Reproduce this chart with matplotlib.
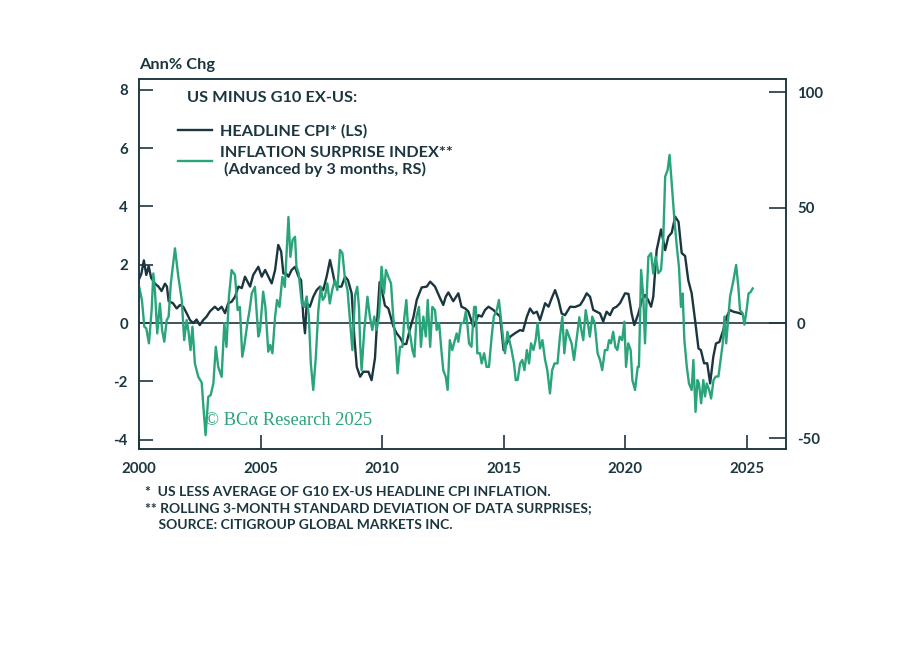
import matplotlib
matplotlib.use("Agg")
import matplotlib.pyplot as plt
from matplotlib.lines import Line2D

plt.rcParams["font.family"] = ["Lato", "DejaVu Sans"]
plt.rcParams["axes.unicode_minus"] = False

DARK = "#1c3640"
GREEN = "#2aa47b"

# US minus G10 ex-US headline CPI (LS), decimal year / % points
cpi_t = [2000.0, 2000.1, 2000.2, 2000.3, 2000.4, 2000.5, 2000.66, 2000.8, 2000.93, 2001.07,
         2001.15, 2001.22, 2001.4, 2001.55, 2001.69, 2001.82, 2001.96, 2002.1, 2002.23, 2002.37,
         2002.5, 2002.64, 2002.78, 2002.92, 2003.12, 2003.26, 2003.4, 2003.54, 2003.67, 2003.81,
         2003.95, 2004.09, 2004.23, 2004.36, 2004.57, 2004.7, 2004.91, 2005.05, 2005.19, 2005.32,
         2005.46, 2005.6, 2005.73, 2005.85, 2005.94, 2006.05, 2006.15, 2006.28, 2006.42, 2006.56,
         2006.67, 2006.76, 2006.83, 2006.9, 2007.03, 2007.17, 2007.31, 2007.45, 2007.58, 2007.72,
         2007.86, 2007.95, 2008.06, 2008.2, 2008.33, 2008.48, 2008.6, 2008.75, 2008.86, 2008.96,
         2009.1, 2009.23, 2009.44, 2009.57, 2009.71, 2009.8, 2009.9, 2010.0, 2010.12, 2010.26,
         2010.46, 2010.6, 2010.74, 2010.88, 2011.0, 2011.15, 2011.29, 2011.43, 2011.63, 2011.84,
         2011.98, 2012.18, 2012.39, 2012.52, 2012.62, 2012.73, 2012.93, 2013.14, 2013.27, 2013.42,
         2013.55, 2013.76, 2013.96, 2014.1, 2014.24, 2014.38, 2014.58, 2014.72, 2014.86, 2015.0,
         2015.13, 2015.27, 2015.47, 2015.68, 2015.8, 2015.96, 2016.09, 2016.23, 2016.37, 2016.5,
         2016.71, 2016.85, 2016.98, 2017.12, 2017.26, 2017.39, 2017.53, 2017.74, 2017.94, 2018.15,
         2018.28, 2018.42, 2018.56, 2018.69, 2018.83, 2018.97, 2019.1, 2019.24, 2019.38, 2019.51,
         2019.65, 2019.79, 2020.0, 2020.14, 2020.27, 2020.38, 2020.55, 2020.69, 2020.82, 2020.95,
         2021.07, 2021.16, 2021.3, 2021.48, 2021.65, 2021.78, 2021.92, 2022.06, 2022.2, 2022.33,
         2022.47, 2022.6, 2022.74, 2022.88, 2023.02, 2023.12, 2023.25, 2023.38, 2023.5, 2023.63,
         2023.74, 2023.88, 2024.04, 2024.18, 2024.32, 2024.45, 2024.66, 2024.8]
cpi_v = [1.5, 1.7, 2.15, 1.65, 1.95, 1.55, 1.35, 1.25, 1.1, 1.35,
         1.25, 0.75, 0.68, 0.5, 0.62, 0.56, 0.34, 0.1, 0.0, 0.12,
         -0.07, 0.1, 0.22, 0.4, 0.56, 0.45, 0.56, 0.34, 0.68, 0.73,
         0.9, 1.25, 1.2, 1.59, 1.25, 1.65, 1.93, 1.59, 1.82, 1.6,
         1.36, 1.82, 2.68, 2.45, 1.7, 1.7, 1.59, 1.82, 1.93, 1.6,
         1.47, 0.22, -0.35, 0.68, 0.56, 0.9, 1.13, 1.25, 1.13, 1.59,
         2.16, 1.82, 1.36, 1.25, 1.25, 1.59, 1.47, 1.02, -0.47, -1.5,
         -1.84, -1.67, -1.67, -1.96, -1.2, 0.1, 1.4, 1.1, 0.6, 0.5,
         -0.1, -0.35, -0.5, -0.72, -0.72, -0.2, 0.2, 0.8, 1.22, 1.25,
         1.42, 1.25, 0.85, 0.62, 0.9, 1.05, 0.75, 1.02, 0.56, 0.5,
         0.4, -0.13, 0.27, 0.22, 0.45, 0.56, 0.45, 0.33, 0.22, -0.93,
         -0.7, -0.47, -0.35, -0.24, -0.27, 0.22, 0.5, 0.33, 0.39, 0.1,
         0.68, 0.56, 0.85, 1.13, 0.79, 0.33, 0.27, 0.56, 0.55, 0.62,
         0.79, 1.02, 0.9, 0.45, 0.39, 0.33, 0.05, 0.39, 0.27, 0.5,
         0.56, 0.68, 1.02, 1.0, 0.33, -0.07, 0.33, 0.79, 0.96, 0.79,
         0.56, 0.9, 2.5, 3.21, 2.5, 2.96, 3.1, 3.65, 3.47, 2.4,
         2.3, 1.47, 1.02, 0.1, -0.87, -0.93, -1.38, -1.38, -2.07, -1.16,
         -0.7, -0.65, -0.24, 0.22, 0.45, 0.39, 0.35, 0.31]

# Inflation surprise index, advanced by 3 months (RS)
srp_t = [2000.0, 2000.12, 2000.22, 2000.3, 2000.41, 2000.52, 2000.59, 2000.66, 2000.75, 2000.86,
         2000.95, 2001.04, 2001.14, 2001.22, 2001.31, 2001.48, 2001.62, 2001.76, 2001.86, 2001.96,
         2002.04, 2002.12, 2002.2, 2002.3, 2002.44, 2002.58, 2002.64, 2002.74, 2002.85, 2002.95,
         2003.06, 2003.16, 2003.26, 2003.4, 2003.51, 2003.6, 2003.7, 2003.81, 2003.95, 2004.06,
         2004.15, 2004.25, 2004.33, 2004.46, 2004.55, 2004.64, 2004.77, 2004.91, 2004.98, 2005.11,
         2005.2, 2005.32, 2005.4, 2005.49, 2005.6, 2005.68, 2005.78, 2005.9, 2006.0, 2006.15,
         2006.23, 2006.32, 2006.42, 2006.48, 2006.57, 2006.7, 2006.8, 2006.9, 2006.99, 2007.07,
         2007.17, 2007.27, 2007.38, 2007.48, 2007.56, 2007.65, 2007.75, 2007.85, 2007.95, 2008.06,
         2008.16, 2008.27, 2008.37, 2008.48, 2008.58, 2008.68, 2008.78, 2008.89, 2008.98, 2009.05,
         2009.1, 2009.16, 2009.27, 2009.4, 2009.5, 2009.6, 2009.68, 2009.78, 2009.88, 2009.98,
         2010.08, 2010.16, 2010.26, 2010.37, 2010.46, 2010.56, 2010.64, 2010.74, 2010.84, 2010.92,
         2011.0, 2011.07, 2011.17, 2011.25, 2011.33, 2011.42, 2011.52, 2011.6, 2011.7, 2011.8,
         2011.88, 2011.98, 2012.07, 2012.18, 2012.25, 2012.35, 2012.43, 2012.52, 2012.62, 2012.7,
         2012.79, 2012.89, 2013.0, 2013.07, 2013.14, 2013.25, 2013.36, 2013.45, 2013.52, 2013.58,
         2013.68, 2013.79, 2013.86, 2013.92, 2014.03, 2014.1, 2014.2, 2014.3, 2014.4, 2014.51,
         2014.6, 2014.72, 2014.81, 2014.9, 2014.99, 2015.06, 2015.16, 2015.27, 2015.33, 2015.43,
         2015.5, 2015.58, 2015.68, 2015.77, 2015.86, 2015.96, 2016.05, 2016.13, 2016.23, 2016.32,
         2016.4, 2016.5, 2016.6, 2016.71, 2016.8, 2016.91, 2017.0, 2017.1, 2017.22, 2017.32,
         2017.42, 2017.5, 2017.6, 2017.7, 2017.8, 2017.9, 2018.0, 2018.12, 2018.2, 2018.28,
         2018.38, 2018.47, 2018.55, 2018.65, 2018.75, 2018.87, 2018.97, 2019.06, 2019.17, 2019.27,
         2019.34, 2019.42, 2019.51, 2019.6, 2019.68, 2019.78, 2019.88, 2019.97, 2020.04, 2020.13,
         2020.23, 2020.3, 2020.41, 2020.52, 2020.57, 2020.66, 2020.75, 2020.82, 2020.89, 2020.96,
         2021.07, 2021.16, 2021.26, 2021.37, 2021.48, 2021.57, 2021.65, 2021.75, 2021.83, 2021.91,
         2022.03, 2022.13, 2022.22, 2022.3, 2022.37, 2022.44, 2022.54, 2022.63, 2022.74, 2022.81,
         2022.9, 2022.98, 2023.04, 2023.13, 2023.22, 2023.29, 2023.36, 2023.46, 2023.54, 2023.64,
         2023.73, 2023.84, 2023.93, 2024.02, 2024.09, 2024.16, 2024.25, 2024.32, 2024.46, 2024.57,
         2024.66, 2024.73, 2024.84, 2024.91, 2025.0, 2025.08, 2025.17, 2025.25]
srp_v = [16, 10, -1.6, -2.3, -8.8, 5.6, 21.5, 13.5, -4.5, 8.5,
         -3, -8.1, 1.3, 2.8, 17.2, 32.4, 20, 10, -7.4, 1.3,
         -3.8, -11.7, -1.6, -17.5, -23.3, -25.8, -34.8, -48.6, -32, -31.2,
         -26.2, -10.3, -19, -23.3, -0.1, -10.3, 11.4, 23, 20.8, 5.6,
         7, -14.6, -10, 0, 5.6, 12.8, 15.7, -5.8, -3.1, 13.6,
         7, -12.4, -9.5, -13.1, 2.8, 10, 7, 20, 15.7, 46,
         28.7, 36, 37.4, 24.4, 21.6, 8.5, 7, 11.5, 2.8, -17.5,
         -29, -15.7, 5.6, 15.7, 10, 11.5, 17.2, 8.5, 14.3, 18.6,
         14.3, 31.7, 30.3, 18.6, 14.3, 1.3, -11.7, 12, 15.7, 7,
         -8.8, -20.4, -3, 11.4, 2.8, -3, 2.8, -3, 3.5, 24.4,
         12.8, 23, 20, 17.2, 2.8, -8.8, -21.8, -10.3, -10.3, 2.8,
         10, -1.6, -5.8, -11.7, -14.6, 2.8, 7, -10.3, 2.8, -5.8,
         10, -10.3, 7, 5.6, -3, 0, -10.3, -20.4, -23.3, -29,
         -7.4, -11.7, -7.4, -4.5, -8.1, 0, 0, 5, -1.6, -8.8,
         -10.3, 7, 7, -13.1, -13.1, -17.5, -13.1, -19, -19, -5.9,
         2.8, 5.6, 10, 1.3, -7.4, -13.1, -3.8, -8.8, -11.7, -17.5,
         -24.7, -24.7, -17.5, -16, -20.4, -11.7, -17.5, -8.8, -11.7, -7.4,
         0, -11, -7.4, -16, -20.4, -30.5, -20.4, -17.5, -17.5, -5.9,
         2.8, -13.1, -3, -5.9, -8.8, -16, -7.4, 2.5, -3, -7.4,
         5.6, 0, -5.9, 2.8, 0, -13.1, -16, -20.4, -11.7, -11.7,
         -7.4, -8.8, -3.8, -10.3, -11.7, -5.9, -7.4, 0.6, -19, -8.8,
         -11.7, -24.7, -29, -19, -19, 23, 11.4, -8.8, 11.4, 28.8,
         30.3, 21.5, 28.8, 21.6, 23, 36, 63.5, 66.3, 72.9, 62,
         44.7, 33.1, 24, 7, 12.8, -7.4, -19, -26.2, -29, -16,
         -38.5, -24.7, -26.2, -34.8, -24.7, -31.8, -26.2, -29, -32.7, -24.7,
         -23.2, -23.2, -16, -8.8, 2.8, -8.8, 2.8, 11.4, 18.6, 25.2,
         15.7, 5.6, 4.2, -0.7, 5.6, 12.8, 13.5, 15]

year_ticks = [2000, 2005, 2010, 2015, 2020, 2025]
left_ticks = [-4, -2, 0, 2, 4, 6, 8]
right_ticks = [-50, 0, 50, 100]

fig = plt.figure(figsize=(9.12, 6.53), dpi=100)
ax = fig.add_axes([0.1524, 0.3124, 0.7094, 0.5666])
ax2 = ax.twinx()

ax.axhline(0, color=DARK, lw=1.2, zorder=1)
ax.plot(cpi_t, cpi_v, color=DARK, lw=1.7, zorder=3)
ax2.plot(srp_t, srp_v, color=GREEN, lw=1.7)

ax.set_xlim(2000, 2026.62)
ax.set_ylim(-4.32, 8.37)
ax2.set_ylim(-54.6, 105.8)

ax.set_xticks(year_ticks)
ax.set_yticks(left_ticks)
ax2.set_yticks(right_ticks)

for a in (ax, ax2):
    for s in a.spines.values():
        s.set_color(DARK)
        s.set_linewidth(1.1)
ax.tick_params(axis="both", direction="in", length=10, width=1.2, color=DARK,
               labelcolor=DARK, labelsize=10.8, pad=8)
ax.tick_params(axis="x", pad=9)
ax2.tick_params(axis="y", direction="in", length=12, width=1.2, color=DARK,
                labelcolor=DARK, labelsize=10.8, pad=8)
for lab in ax.get_xticklabels() + ax.get_yticklabels() + ax2.get_yticklabels():
    lab.set_fontweight("bold")

fig.text(0.1524, 0.9, "Ann% Chg", color=DARK, fontsize=11.8, va="center", fontweight="bold")

ax.text(0.074, 0.949, "US MINUS G10 EX-US:", transform=ax.transAxes, color=DARK,
        fontsize=11.8, va="center", fontweight="bold")
handles = [Line2D([], [], color=DARK, lw=1.7), Line2D([], [], color=GREEN, lw=1.7)]
labels = ["HEADLINE CPI* (LS)", "INFLATION SURPRISE INDEX**\n (Advanced by 3 months, RS)"]
leg = ax.legend(handles, labels, loc="upper left", bbox_to_anchor=(0.06, 0.879),
                frameon=False, borderpad=0, borderaxespad=0, handlelength=2.1,
                handletextpad=0.5, labelspacing=0.45,
                prop={"size": 11.7, "weight": "bold"})
for t in leg.get_texts():
    t.set_color(DARK)

ax.text(0.102, 0.076, "\u00a9 BC\u03b1 Research 2025", transform=ax.transAxes, color=GREEN,
        fontsize=13.3, va="center", family=["Liberation Serif", "DejaVu Serif"])

notes = ["*  US LESS AVERAGE OF G10 EX-US HEADLINE CPI INFLATION.",
         "** ROLLING 3-MONTH STANDARD DEVIATION OF DATA SURPRISES;",
         "    SOURCE: CITIGROUP GLOBAL MARKETS INC."]
for i, n in enumerate(notes):
    fig.text(0.159, 1 - (492 + 16.5 * i) / 653, n, color=DARK, fontsize=10, va="center",
             fontweight="bold")

fig.savefig("out.png", dpi=100)
